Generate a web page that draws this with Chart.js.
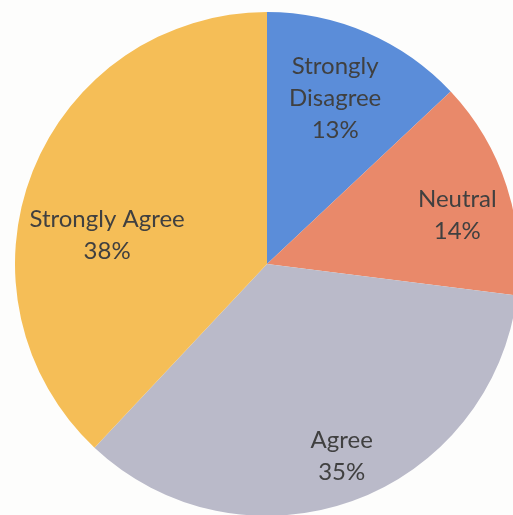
<!DOCTYPE html>
<html>
<head>
<meta charset="utf-8">
<script src="https://cdn.jsdelivr.net/npm/chart.js@4/dist/chart.umd.min.js"></script>
<style>
  html, body { margin:0; padding:0; width:513px; height:515px; overflow:hidden; background:#fdfdfc; }
  #wrap { position:absolute; left:15px; top:12px; width:504px; height:504px; }
</style>
</head>
<body>
<div id="wrap"><canvas id="c" width="504" height="504"></canvas></div>
<script>
const categories = ["Strongly Disagree", "Neutral", "Agree", "Strongly Agree"];
const labelLines = [["Strongly", "Disagree"], ["Neutral"], ["Agree"], ["Strongly Agree"]];
const percentages = [13, 14, 35, 38];
const sliceColors = ["#5b8dd9", "#e9896a", "#babac9", "#f5be57"];

const labelPlugin = {
  id: 'sliceLabels',
  afterDatasetsDraw(chart, args, opts) {
    const ctx = chart.ctx;
    const meta = chart.getDatasetMeta(0);
    const ds = chart.data.datasets[0];
    ctx.save();
    ctx.font = opts.font;
    ctx.fillStyle = opts.color;
    ctx.textAlign = 'center';
    ctx.textBaseline = 'middle';
    meta.data.forEach((arc, i) => {
      const p = arc.getProps(['x','y','startAngle','endAngle','outerRadius'], true);
      const mid = (p.startAngle + p.endAngle) / 2 + opts.angleShift[i] * Math.PI / 180;
      const r = p.outerRadius * opts.radial[i];
      const cx = p.x + Math.cos(mid) * r;
      const cy = p.y + Math.sin(mid) * r;
      const lines = labelLines[i].concat([ds.data[i] + '%']);
      const lh = opts.lineHeight;
      const top = cy - (lines.length - 1) * lh / 2;
      lines.forEach((t, k) => ctx.fillText(t, cx, top + k * lh));
    });
    ctx.restore();
  }
};

new Chart(document.getElementById('c'), {
  type: 'pie',
  data: {
    labels: categories,
    datasets: [{
      data: percentages,
      backgroundColor: sliceColors,
      borderWidth: 0
    }]
  },
  options: {
    responsive: false,
    animation: false,
    devicePixelRatio: 1,
    layout: { padding: 0 },
    plugins: {
      legend: { display: false },
      tooltip: { enabled: false },
      sliceLabels: {
        font: '24px Lato, "Open Sans", sans-serif',
        color: '#404040',
        lineHeight: 32,
        radial: [0.71, 0.78, 0.82, 0.645],
        angleShift: [-1, 3.5, -1.4, -11.3]
      }
    }
  },
  plugins: [labelPlugin]
});
</script>
</body>
</html>
